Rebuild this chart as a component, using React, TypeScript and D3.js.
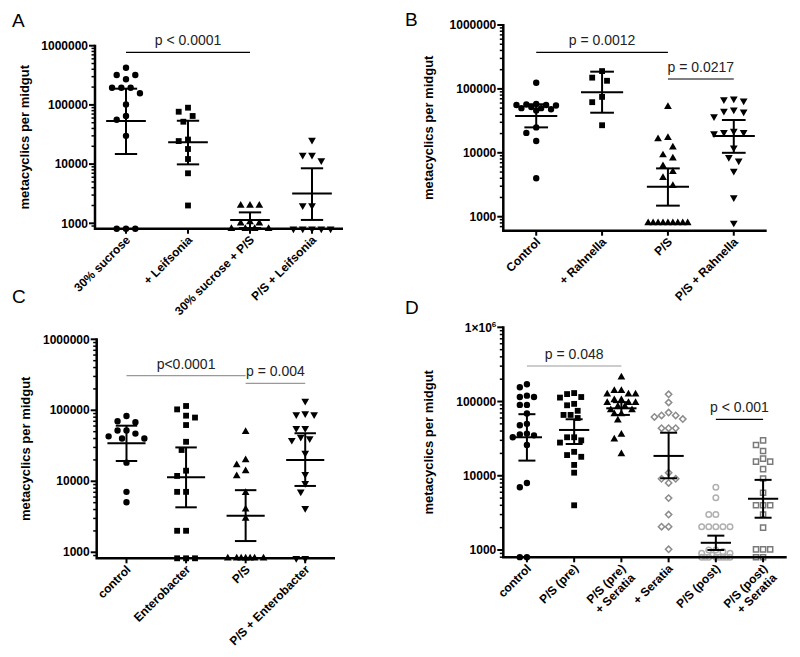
import React from 'react';
import * as d3 from 'd3';

const FONT = '"Liberation Sans", Arial, Helvetica, sans-serif';

// ---------------- Panel A ----------------
const aCategories = ['30% sucrose', '+ Leifsonia', '30% sucrose + P/S', 'P/S + Leifsonia'];
const aSucrose = [425000, 320000, 320000, 271000, 195000, 195000, 195000, 157000, 102000, 65000, 56000, 30000, 800, 800, 800];
const aLeifsonia = [89700, 76700, 65000, 52000, 26000, 24500, 18000, 12200, 7000, 2000];
const aSucrosePS = [2000, 2000, 2000, 1050, 1000, 1000, 800, 800, 800, 800];
const aPSLeifsonia = [25500, 14300, 14300, 11500, 2000, 2000, 800, 800, 800, 800, 800];
const aCenter = [53500, 23400, 1140, 3200];
const aUpper = [188000, 54000, 1530, 8500];
const aLower = [14800, 9900, 830, 1140];
const aPText = ['p < 0.0001'];

// ---------------- Panel B ----------------
const bCategories = ['Control', '+ Rahnella', 'P/S', 'P/S + Rahnella'];
const bControl = [125000, 58000, 57000, 56000, 56000, 55000, 52000, 50000, 50000, 48000, 46000, 25000, 20500, 15300, 4000];
const bRahnella = [190000, 150000, 134000, 75000, 62000, 27000];
const bPS = [52700, 17200, 16400, 12200, 9200, 8200, 6200, 5060, 4070, 3050, 800, 800, 800, 800, 800, 800, 800, 800, 800];
const bPSRahnella = [70000, 68000, 65000, 47000, 45000, 44000, 37000, 22000, 21000, 21000, 20000, 12000, 8500, 7500, 5200, 2000, 800];
const bCenter = [37700, 88500, 2950, 18300];
const bUpper = [57500, 186000, 5700, 32600];
const bLower = [25000, 42400, 1490, 10000];
const bPText = ['p = 0.0012', 'p = 0.0217'];

// ---------------- Panel C ----------------
const cCategories = ['control', 'Enterobacter', 'P/S', 'P/S + Enterobacter'];
const cControl = [83000, 70000, 68000, 52000, 52000, 47000, 43000, 40000, 40000, 18300, 7100, 5060];
const cEnterobacter = [115000, 103000, 84000, 79000, 62000, 36000, 27600, 14100, 11900, 7100, 7100, 2010, 2010, 800, 800, 800];
const cPS = [50000, 20000, 17000, 14000, 11900, 6900, 4030, 3000, 800, 800, 800, 800, 800, 800, 800];
const cPSEnterobacter = [135000, 90000, 87000, 87000, 56000, 56000, 42000, 40000, 38000, 25000, 12600, 9400, 7100, 4170, 800, 800];
const cCenter = [34300, 11400, 3280, 20000];
const cUpper = [60700, 30000, 7500, 47500];
const cLower = [19300, 4300, 1440, 8600];
const cPText = ['p<0.0001', 'p = 0.004'];

// ---------------- Panel D ----------------
const dCategories = ['control', 'P/S (pre)', 'P/S (pre)\n+ Seratia', '+ Seratia', 'P/S (post)', 'P/S (post)\n+ Seratia'];
const dControl = [171000, 156000, 120000, 115000, 115000, 90000, 90000, 69000, 50000, 48000, 37000, 36000, 35000, 33000, 26000, 8000, 7000, 800, 800];
const dPSPre = [130000, 126000, 115000, 113000, 93000, 89000, 75000, 66000, 66000, 60000, 33000, 33000, 30000, 28000, 21000, 19000, 18000, 14000, 11000, 4000];
const dPSPreSeratia = [212000, 140000, 140000, 125000, 125000, 125000, 105000, 105000, 96000, 96000, 96000, 86000, 86000, 77000, 77000, 68000, 68000, 56000, 36000, 31000, 19700];
const dSeratia = [125000, 97000, 71000, 65000, 65000, 62000, 58000, 43700, 43700, 43700, 11000, 9100, 9100, 8000, 5000, 3000, 2060, 2060, 1020];
const dPSPost = [7000, 5070, 3000, 3000, 2060, 2060, 2060, 2060, 2060, 1000, 1000, 950, 900, 900, 850, 800, 800, 800, 800, 800, 800, 800, 800];
const dPSPostSeratia = [30000, 26000, 21600, 17000, 15500, 15500, 12300, 9200, 5900, 4000, 4000, 4000, 3000, 2000, 1020, 1020, 1020, 800, 800];
const dCenter = [33000, 41400, 81000, 18500, 1250, 4900];
const dUpper = [67500, 57700, 98000, 38000, 1560, 8800];
const dLower = [16000, 26800, 66000, 9250, 1000, 2720];
const dPText = ['p = 0.048', 'p < 0.001'];

const yMajorTicks = [1000, 10000, 100000, 1000000];

type Kind = 'circle' | 'square' | 'triangle' | 'triangleDown' | 'diamondOpen' | 'circleOpen' | 'squareOpen';

interface Group { label: string; values: number[]; center: number; upper: number; lower: number; kind: Kind; color: string; }
interface Sig { from: number; to: number; text: string; lineY: number; color: string; }
interface PanelCfg {
  letter: string; letterX: number; letterY: number;
  axisX: number; right: number; top: number; bottom: number; yMin: number;
  titleX: number; groups: Group[]; sig: Sig[]; sciTop?: boolean;
}

function makeGroups(cats: string[], vals: number[][], c: number[], u: number[], l: number[], kinds: Kind[], colors: string[]): Group[] {
  return cats.map((label, i) => ({ label, values: vals[i], center: c[i], upper: u[i], lower: l[i], kind: kinds[i], color: colors[i] }));
}

const panels: PanelCfg[] = [
  {
    letter: 'A', letterX: 12, letterY: 27, axisX: 95, right: 343, top: 45.7, bottom: 228.7, yMin: 811, titleX: 24,
    groups: makeGroups(aCategories, [aSucrose, aLeifsonia, aSucrosePS, aPSLeifsonia], aCenter, aUpper, aLower,
      ['circle', 'square', 'triangle', 'triangleDown'], ['#000', '#000', '#000', '#000']),
    sig: [{ from: 0, to: 2, text: aPText[0], lineY: 52.3, color: '#000' }],
  },
  {
    letter: 'B', letterX: 405, letterY: 26, axisX: 503.3, right: 766.7, top: 25, bottom: 230.7, yMin: 604, titleX: 428.3,
    groups: makeGroups(bCategories, [bControl, bRahnella, bPS, bPSRahnella], bCenter, bUpper, bLower,
      ['circle', 'square', 'triangle', 'triangleDown'], ['#000', '#000', '#000', '#000']),
    sig: [
      { from: 0, to: 2, text: bPText[0], lineY: 52.3, color: '#000' },
      { from: 2, to: 3, text: bPText[1], lineY: 79, color: '#000' },
    ],
  },
  {
    letter: 'C', letterX: 12, letterY: 303, axisX: 96.7, right: 335, top: 339.3, bottom: 558.3, yMin: 823, titleX: 25,
    groups: makeGroups(cCategories, [cControl, cEnterobacter, cPS, cPSEnterobacter], cCenter, cUpper, cLower,
      ['circle', 'square', 'triangle', 'triangleDown'], ['#000', '#000', '#000', '#000']),
    sig: [
      { from: 0, to: 2, text: cPText[0], lineY: 375.7, color: '#999' },
      { from: 2, to: 3, text: cPText[1], lineY: 383.3, color: '#999' },
    ],
  },
  {
    letter: 'D', letterX: 405, letterY: 314, axisX: 503.3, right: 786.7, top: 327.3, bottom: 557.3, yMin: 797, titleX: 428.3, sciTop: true,
    groups: makeGroups(dCategories, [dControl, dPSPre, dPSPreSeratia, dSeratia, dPSPost, dPSPostSeratia], dCenter, dUpper, dLower,
      ['circle', 'square', 'triangle', 'diamondOpen', 'circleOpen', 'squareOpen'], ['#000', '#000', '#000', '#8c8c8c', '#b0b0b0', '#7a7a7a']),
    sig: [
      { from: 0, to: 2, text: dPText[0], lineY: 366, color: '#999' },
      { from: 4, to: 5, text: dPText[1], lineY: 419.3, color: '#000' },
    ],
  },
];

function swarm(values: number[], yf: (v: number) => number, d: number, maxHalf: number): number[] {
  const order = values.map((_, i) => i).sort((a, b) => values[b] - values[a]);
  const placed: { x: number; y: number }[] = [];
  const offs = new Array(values.length).fill(0);
  const step = d / 2;
  const cands: number[] = [0];
  for (let k = 1; k * step <= maxHalf + 0.01; k++) cands.push(-k * step, k * step);
  for (const i of order) {
    const py = yf(values[i]);
    let best = 0, bestScore = -1;
    let chosen: number | null = null;
    for (const c of cands) {
      let minD = Infinity;
      for (const p of placed) {
        const dd = Math.hypot(p.x - c, p.y - py);
        if (dd < minD) minD = dd;
      }
      if (minD >= d) { chosen = c; break; }
      if (minD > bestScore) { bestScore = minD; best = c; }
    }
    const xo = chosen ?? best;
    offs[i] = xo;
    placed.push({ x: xo, y: py });
  }
  return offs;
}

const triPath = d3.symbol().type(d3.symbolTriangle).size(26)() as string;
const sqPath = d3.symbol().type(d3.symbolSquare).size(34)() as string;
const circPath = d3.symbol().type(d3.symbolCircle).size(32)() as string;
const diaPath = d3.symbol().type(d3.symbolSquare).size(20)() as string;
const openCircPath = d3.symbol().type(d3.symbolCircle).size(24)() as string;
const openSqPath = d3.symbol().type(d3.symbolSquare).size(26)() as string;

function Marker({ kind, x, y, color }: { kind: Kind; x: number; y: number; color: string }) {
  const t = `translate(${x},${y})`;
  switch (kind) {
    case 'circle': return <path d={circPath} transform={t} fill={color} />;
    case 'square': return <path d={sqPath} transform={t} fill={color} />;
    case 'triangle': return <path d={triPath} transform={t} fill={color} />;
    case 'triangleDown': return <path d={triPath} transform={`${t} rotate(180)`} fill={color} />;
    case 'diamondOpen': return <path d={diaPath} transform={`${t} rotate(45)`} fill="none" stroke={color} strokeWidth={1.5} />;
    case 'circleOpen': return <path d={openCircPath} transform={t} fill="none" stroke={color} strokeWidth={1.5} />;
    case 'squareOpen': return <path d={openSqPath} transform={t} fill="none" stroke={color} strokeWidth={1.5} />;
  }
  return null;
}

function Panel({ cfg }: { cfg: PanelCfg }) {
  const y = d3.scaleLog().domain([cfg.yMin, 1e6]).range([cfg.bottom, cfg.top]).clamp(true);
  const x = d3.scalePoint<string>().domain(cfg.groups.map(g => g.label)).range([cfg.axisX, cfg.right]).padding(0.5);
  const step = x.step();
  const d = step * 0.15;
  const maxHalf = step * 0.3;
  const meanHalf = step * 0.32;
  const capHalf = step * 0.18;

  const minors: number[] = [];
  for (let e = 2; e < 6; e++) for (let k = 2; k < 10; k++) {
    const v = k * Math.pow(10, e);
    if (v >= cfg.yMin && v < 1e6) minors.push(v);
  }
  const fmt = d3.format('d');

  return (
    <g>
      <text x={cfg.letterX} y={cfg.letterY} fontSize={19} fill="#000">{cfg.letter}</text>
      {/* y title */}
      <text transform={`translate(${cfg.titleX},${(cfg.top + cfg.bottom) / 2}) rotate(-90)`} textAnchor="middle" dy="0.35em"
        fontSize={13} fontWeight="bold">metacyclics per midgut</text>
      {/* points */}
      {cfg.groups.map((g) => {
        const cx = x(g.label) as number;
        const offs = swarm(g.values, (v) => y(v), d, maxHalf);
        return (
          <g key={g.label}>
            {g.values.map((v, i) => <Marker key={i} kind={g.kind} x={cx + offs[i]} y={y(v)} color={g.color} />)}
          </g>
        );
      })}
      {/* error bars */}
      {cfg.groups.map((g) => {
        const cx = x(g.label) as number;
        return (
          <g key={'e' + g.label} stroke="#000" strokeWidth={2}>
            <line x1={cx} x2={cx} y1={y(g.upper)} y2={y(g.lower)} />
            <line x1={cx - capHalf} x2={cx + capHalf} y1={y(g.upper)} y2={y(g.upper)} />
            <line x1={cx - capHalf} x2={cx + capHalf} y1={y(g.lower)} y2={y(g.lower)} />
            <line x1={cx - meanHalf} x2={cx + meanHalf} y1={y(g.center)} y2={y(g.center)} />
          </g>
        );
      })}
      {/* axes */}
      <path d={`M${cfg.axisX},${cfg.top - 1}V${cfg.bottom}H${cfg.right}`} fill="none" stroke="#000" strokeWidth={2.5} />
      {minors.map(v => <line key={'m' + v} x1={cfg.axisX - 3.5} x2={cfg.axisX} y1={y(v)} y2={y(v)} stroke="#000" strokeWidth={1.5} />)}
      {yMajorTicks.map(v => (
        <g key={'M' + v}>
          <line x1={cfg.axisX - 6} x2={cfg.axisX} y1={y(v)} y2={y(v)} stroke="#000" strokeWidth={2} />
          {cfg.sciTop && v === 1e6 ? (
            <text x={cfg.axisX - 7} y={y(v)} dy="0.35em" textAnchor="end" fontSize={12} fontWeight="bold">
              <tspan>1×10</tspan><tspan dy={-5} fontSize={8}>6</tspan>
            </text>
          ) : (
            <text x={cfg.axisX - 7} y={y(v)} dy="0.35em" textAnchor="end" fontSize={12} fontWeight="bold">{fmt(v)}</text>
          )}
        </g>
      ))}
      {cfg.groups.map((g) => {
        const cx = x(g.label) as number;
        const lines = g.label.split('\n');
        return (
          <g key={'x' + g.label}>
            <line x1={cx} x2={cx} y1={cfg.bottom} y2={cfg.bottom + 5} stroke="#000" strokeWidth={2} />
            <text transform={`translate(${cx + 2},${cfg.bottom + 9}) rotate(-45)`} textAnchor="end" fontSize={12} fontWeight="bold">
              {lines.map((ln, i) => <tspan key={i} x={0} dy={i === 0 ? '0.35em' : '1.1em'}>{ln}</tspan>)}
            </text>
          </g>
        );
      })}
      {/* significance */}
      {cfg.sig.map((s, i) => {
        const x1 = x(cfg.groups[s.from].label) as number;
        const x2 = x(cfg.groups[s.to].label) as number;
        return (
          <g key={'s' + i}>
            <line x1={x1} x2={x2} y1={s.lineY} y2={s.lineY} stroke={s.color} strokeWidth={1.2} />
            <text x={(x1 + x2) / 2} y={s.lineY - 7} textAnchor="middle" fontSize={14} fill="#222">{s.text}</text>
          </g>
        );
      })}
    </g>
  );
}

export default function App() {
  return (
    <svg width={800} height={657} style={{ position: 'absolute', left: 0, top: 0, background: '#fff' }} fontFamily={FONT}>
      <rect width={800} height={657} fill="#fff" />
      {panels.map(p => <Panel key={p.letter} cfg={p} />)}
    </svg>
  );
}
